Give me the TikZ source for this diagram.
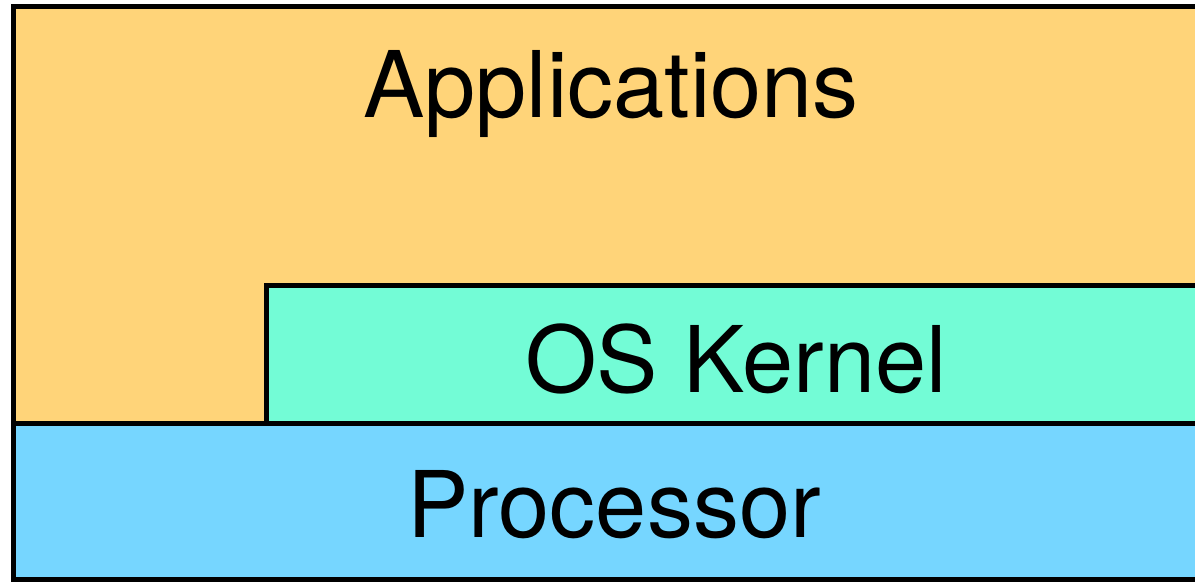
\documentclass[tikz,border=0pt]{standalone}
\usepackage{fontspec}
\setmainfont{TeX Gyre Heros}
\definecolor{cantaloupe}{HTML}{FFD479}
\definecolor{spindrift}{HTML}{73FCD6}
\definecolor{sky}{HTML}{76D6FF}
\tikzset{
  layer/.style={draw=black, line width=2.5pt, line join=miter},
  label/.style={anchor=base, inner sep=0pt, font=\fontsize{46}{50}\selectfont}
}
\begin{document}
\begin{tikzpicture}[x=0.5pt, y=-0.5pt]
      \useasboundingbox (0,0) rectangle (1195,582);
      \clip (0,0) rectangle (1195,582);
      \draw[layer, fill=cantaloupe]
        (13.5,7) -- (1210,7) -- (1210,285.5) -- (266,285.5)
        -- (266,424) -- (13.5,424) -- cycle;
      \draw[layer, fill=spindrift] (266,285.5) rectangle (1210,424);
      \draw[layer, fill=sky] (13.5,424) rectangle (1210,580);
      \draw
        (611,118) node[label] (apps){Applications}
        (736,393) node[label] (kernel){OS Kernel}
        (614,538) node[label] (cpu){Processor};
    \end{tikzpicture}
\end{document}
